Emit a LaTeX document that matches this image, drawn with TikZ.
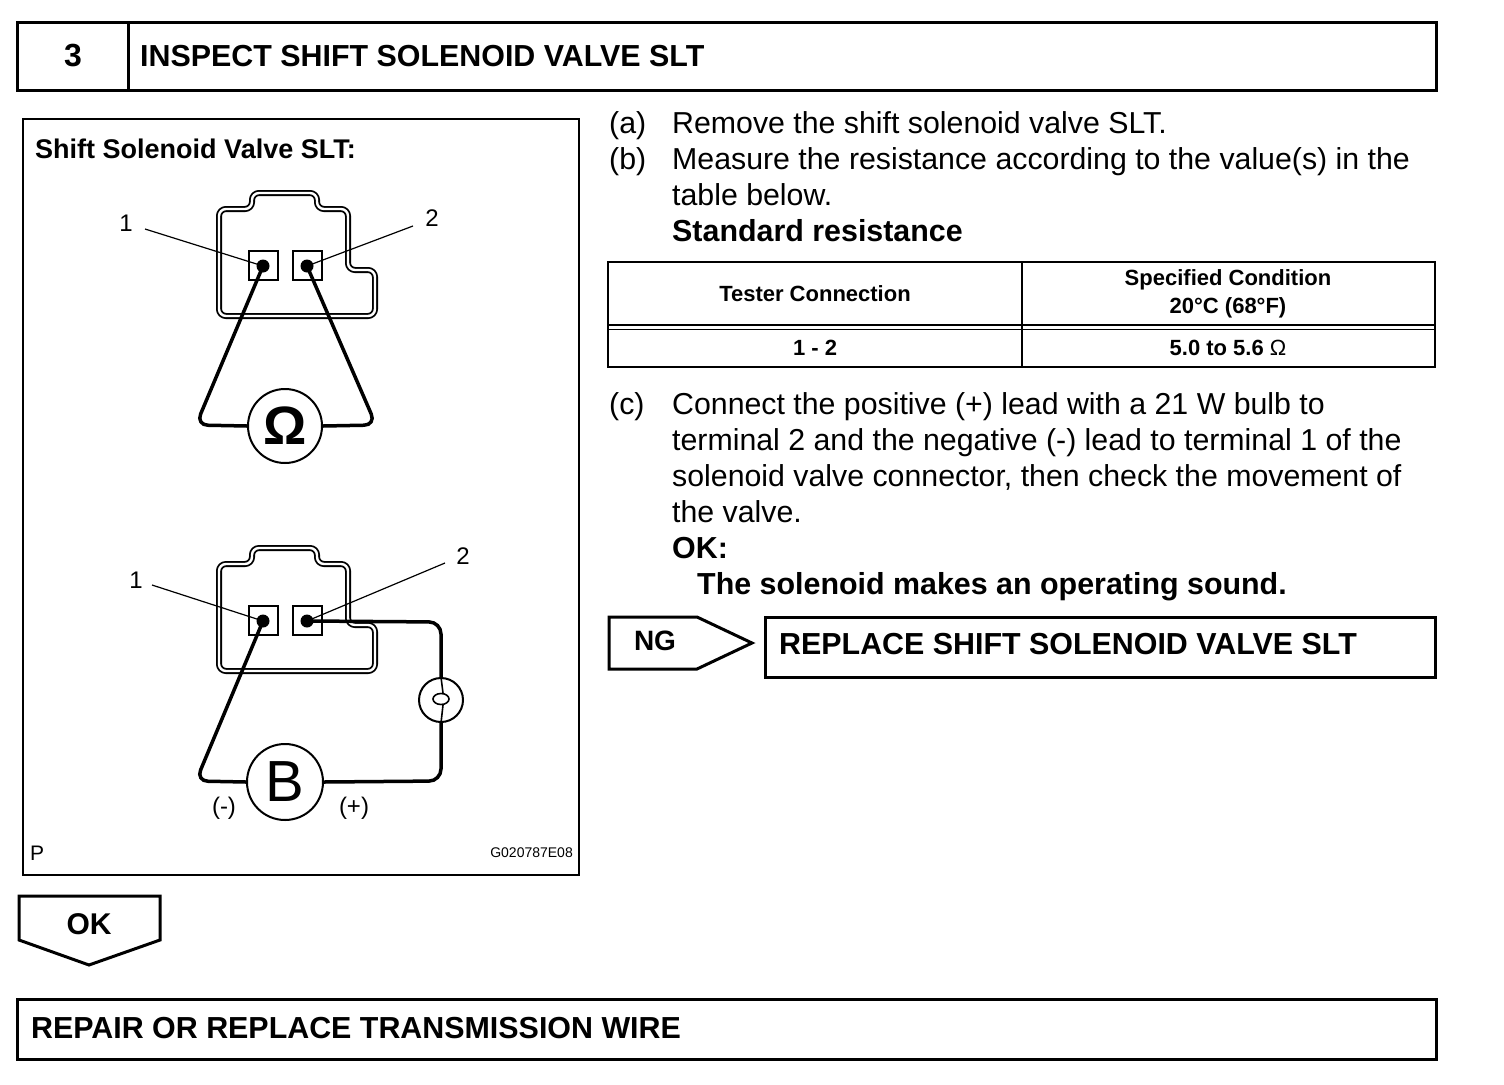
\documentclass[tikz,border=0pt]{standalone}
\usepackage{fontspec}
\setmainfont{Liberation Sans}
\newcommand{\myfs}[1]{\fontsize{#1}{#1}\selectfont}
\begin{document}
\begin{tikzpicture}[x=1pt,y=-1pt,
  box/.style={draw, line width=3pt},
  frame/.style={draw, line width=2pt},
  txt/.style={anchor=base west, inner sep=0pt, font=\myfs{30.3}},
  btxt/.style={anchor=base west, inner sep=0pt, font=\myfs{30.4}\bfseries},
  tbl/.style={inner sep=0pt, font=\myfs{22}\bfseries},
  conn/.style={draw, line width=1.8pt, double=white, double distance=2.4pt, rounded corners=7pt},
  term/.style={draw, line width=2pt, minimum size=29pt, inner sep=0pt},
  pindot/.style={circle, fill, minimum size=13pt, inner sep=0pt},
  wire/.style={line width=3.5pt, rounded corners=12pt},
  lead/.style={line width=1.2pt},
  meter/.style={circle, draw, fill=white, line width=2pt, inner sep=0pt},
  numlbl/.style={inner sep=0pt, font=\myfs{24}},
  fil/.style={line width=1.6pt}
]
\useasboundingbox[fill=white] (0,0) rectangle (1504,1084);

% header
\draw[box] (17,22) rectangle (1436,90);
\draw[box] (128,22) -- (128,90);
\node[inner sep=0pt, font=\myfs{32}\bfseries] (stepno) at (73,56) {3};
\node[btxt] (title) at (140,66) {INSPECT SHIFT SOLENOID VALVE SLT};

% illustration frame
\draw[frame] (23,119) rectangle (579,875);
\node[anchor=base west, inner sep=0pt, font=\myfs{27}\bfseries] (illtitle) at (35,158) {Shift Solenoid Valve SLT:};
\node[anchor=west, inner sep=0pt, font=\myfs{21}] (pmark) at (30,853) {P};
\node[anchor=east, inner sep=0pt, font=\myfs{14}] (figid) at (573,853) {G020787E08};

% ---- top connector (ohmmeter)
\draw[conn] (252,193) -- (317,193) -- (317,209) -- (348,209) -- (348,270) -- (375,270) -- (375,316) -- (219,316) -- (219,209) -- (252,209) -- cycle;
\node[term] (sq1a) at (263,265) {};
\node[term] (sq2a) at (307,265) {};
\node[pindot] (p1a) at (263,266) {};
\node[pindot] (p2a) at (307,266) {};
\node[meter, minimum size=74pt] (om) at (285,426) {\myfs{54}\bfseries Ω};
\draw[wire] (p1a.center) -- (196,425) -- (om.west);
\draw[wire] (p2a.center) -- (376,425) -- (om.east);
\node[numlbl] (n1a) at (126,223) {1};
\node[numlbl] (n2a) at (432,218) {2};
\coordinate (l1a) at (145,229);
\coordinate (l2a) at (413,226);
\draw[lead] (l1a) -- (p1a.center);
\draw[lead] (l2a) -- (p2a.center);

% ---- bottom connector (battery + bulb)
\draw[conn, shift={(0,355)}] (252,193) -- (317,193) -- (317,209) -- (348,209) -- (348,270) -- (375,270) -- (375,316) -- (219,316) -- (219,209) -- (252,209) -- cycle;
\node[term] (sq1b) at (263,620) {};
\node[term] (sq2b) at (307,620) {};
\node[pindot] (p1b) at (263,621) {};
\node[pindot] (p2b) at (307,621) {};
\node[meter, minimum size=44pt] (bulb) at (441,700) {};
\node[meter, minimum size=76pt] (batt) at (285,782) {\myfs{58}B};
\draw[wire] (p2b.center) -- (441,622) -- (bulb.north);
\draw[wire] (bulb.south) -- (441,781) -- (batt.east);
\draw[wire] (batt.west) -- (196,781) -- (p1b.center);
\draw[fil] (bulb.north) -- (443,693);
\draw[fil] (441,699) ellipse [x radius=8pt, y radius=5.5pt];
\draw[fil] (443,705) -- (bulb.south);
\node[numlbl] (n1b) at (136,580) {1};
\node[numlbl] (n2b) at (463,556) {2};
\coordinate (l1b) at (152,585);
\coordinate (l2b) at (445,563);
\draw[lead] (l1b) -- (p1b.center);
\draw[lead] (l2b) -- (p2b.center);
\node[numlbl] (minus) at (224,808) {(-)};
\node[numlbl] (plus) at (354,808) {(+)};

% ---- right text
\node[txt] (la) at (609,133) {(a)};
\node[txt] (ta) at (672,133) {Remove the shift solenoid valve SLT.};
\node[txt] (lb) at (609,169) {(b)};
\node[txt] (tb1) at (672,169) {Measure the resistance according to the value(s) in the};
\node[txt] (tb2) at (672,205) {table below.};
\node[btxt] (tb3) at (672,241) {Standard resistance};

% table
\draw[frame] (608,262) rectangle (1435,367);
\draw[frame] (1022,262) -- (1022,367);
\draw[line width=1.5pt] (608,325) -- (1435,325);
\draw[line width=1.5pt] (608,329.5) -- (1435,329.5);
\node[tbl] (h1) at (815,294) {Tester Connection};
\node[tbl] (h2a) at (1228,280) {Specified Condition};
\node[tbl] (h2b) at (1228,308) {20°C (68°F)};
\node[tbl] (c1) at (815,348) {1 - 2};
\node[tbl] (c2) at (1228,348) {5.0 to 5.6 {\mdseries Ω}};

\node[txt] (lc) at (609,414) {(c)};
\node[txt] (tc1) at (672,414) {Connect the positive (+) lead with a 21 W bulb to};
\node[txt] (tc2) at (672,450) {terminal 2 and the negative (-) lead to terminal 1 of the};
\node[txt] (tc3) at (672,486) {solenoid valve connector, then check the movement of};
\node[txt] (tc4) at (672,522) {the valve.};
\node[btxt] (tok) at (672,558) {OK:};
\node[btxt] (tok2) at (697,594) {The solenoid makes an operating sound.};

% NG arrow and replace box
\draw[box] (609,617) -- (697,617) -- (752,643) -- (697,669) -- (609,669) -- cycle;
\node[inner sep=0pt, font=\myfs{28}\bfseries] (ng) at (655,641) {NG};
\draw[box] (765,617) rectangle (1435,677);
\node[btxt] (repl) at (779,654) {REPLACE SHIFT SOLENOID VALVE SLT};

% OK arrow
\draw[box] (19,896) -- (160,896) -- (160,940) -- (89,965) -- (19,940) -- cycle;
\node[inner sep=0pt, font=\myfs{30}\bfseries] (ok) at (89,924) {OK};

% bottom box
\draw[box] (17,999) rectangle (1436,1059);
\node[btxt] (repair) at (31,1038) {REPAIR OR REPLACE TRANSMISSION WIRE};
\end{tikzpicture}
\end{document}
